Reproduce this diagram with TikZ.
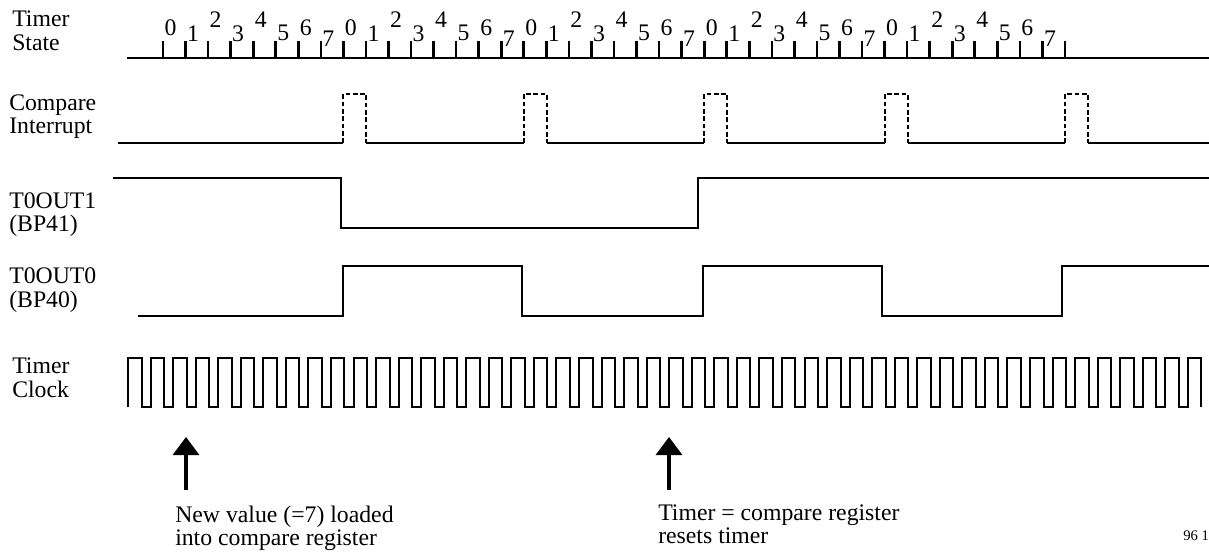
\documentclass[tikz,border=0pt]{standalone}
\usepackage{fontspec}
\setmainfont{Liberation Serif}
\usetikzlibrary{arrows.meta}

\begin{document}
\begin{tikzpicture}[x=0.75pt,y=-0.75pt,
    every node/.style={inner sep=0pt,font=\fontsize{17.8}{17.6}\selectfont},
    lbl/.style={anchor=north west,align=left},
    sig/.style={line width=1.5pt},
    pulse/.style={line width=1.5pt,dash pattern=on 3.5pt off 2pt},
    tickmark/.style={line width=2pt},
    clk/.style={line width=1.5pt},
    upar/.style={line width=2.5pt,-{Triangle[width=19.5pt,length=13.5pt]}}]

    \useasboundingbox (0,0) rectangle (1209,551);

    % Timer state: axis, ticks and count values
    \node[lbl] (state) at (12,11) {Timer\\State};
    \draw[sig] (127,58) -- (1209,58);
    \foreach \c in {0,...,4}
      \foreach \d/\yy in {0/28,1/34,2/20,3/34,4/20,5/33,6/28,7/39} {
        \pgfmathsetmacro{\xx}{163+22.55*(8*\c+\d)}
        \draw[tickmark] (\xx,58) -- (\xx,41);
        \node (s\c\d) at (\xx+7.5,\yy) {\d};
      }
    \draw[tickmark] (1065,58) -- (1065,41);

    % Compare interrupt pulses (dashed)
    \node[lbl] (cmp) at (9,94.5) {Compare\\Interrupt};
    \draw[sig] (118,143) -- (343.4,143);
    \foreach \k in {1,...,5} {
      \pgfmathsetmacro{\xa}{163+180.4*\k}
      \pgfmathsetmacro{\xb}{\xa+23}
      \pgfmathsetmacro{\xn}{min(\xa+180.4,1209)}
      \draw[pulse] (\xa,143) -- (\xa,94) -- (\xb,94) -- (\xb,143);
      \draw[sig] (\xb,143) -- (\xn,143);
    }

    % Output T0OUT1
    \node[lbl] (out1) at (9,192) {T0OUT1\\(BP41)};
    \draw[sig] (113,178) -- (341,178) -- (341,228) -- (698,228) -- (698,178) -- (1209,178);

    % Output T0OUT0
    \node[lbl] (out0) at (9,267.5) {T0OUT0\\(BP40)};
    \draw[sig] (138,316) -- (343,316) -- (343,266) -- (522,266) -- (522,316) -- (703,316)
        -- (703,266) -- (882,266) -- (882,316) -- (1062,316) -- (1062,266) -- (1209,266);

    % Timer clock
    \node[lbl] (clock) at (12,358) {Timer\\Clock};
    \draw[clk] (128,407) \foreach \k in {1,...,47} { -- ++(0,-49) -- ++(13.5,0) -- ++(0,49) -- ++(9.05,0) }
        -- ++(0,-49) -- ++(13.5,0) -- ++(0,49);

    % Events
    \coordinate (load0) at (186,490);
    \coordinate (load) at (186,437);
    \coordinate (reset0) at (669,490);
    \coordinate (reset) at (669,437);
    \draw[upar] (load0) -- (load);
    \draw[upar] (reset0) -- (reset);
    \node[lbl] (note1) at (175,505.5) {New value (=7) loaded\\into compare register};
    \node[lbl] (note2) at (658,504.5) {Timer = compare register\\resets timer};

    \node[anchor=base west,font=\fontsize{11}{13}\selectfont] (fig) at (1183,540) {96 1};
\end{tikzpicture}
\end{document}
